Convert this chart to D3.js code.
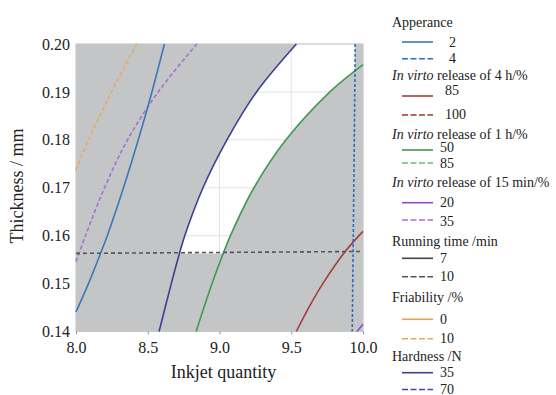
<!DOCTYPE html>
<html>
<head>
<meta charset="utf-8">
<script src="https://cdn.jsdelivr.net/npm/d3@7"></script>
<style>
  body { margin: 0; background: #fff; }
  svg text { font-family: "Liberation Serif", "Times New Roman", serif; fill: #222; }
</style>
</head>
<body>
<div id="chart"></div>
<script>
// axis ticks
const xTicks = [8.0, 8.5, 9.0, 9.5, 10.0];
const yTicks = [0.14, 0.15, 0.16, 0.17, 0.18, 0.19, 0.20];

// contour lines, [inkjet quantity, thickness]
const appearance2 = [[8.0, 0.1441], [8.087, 0.15], [8.171, 0.1563], [8.218, 0.16], [8.331, 0.17], [8.434, 0.18], [8.529, 0.19], [8.616, 0.20]];
const appearance4 = [[9.945, 0.20], [9.944, 0.1944], [9.925, 0.14]];
const release4h85 = [[9.535, 0.14], [9.622, 0.145], [9.72, 0.15], [9.876, 0.1567], [10.0, 0.1609]];
const release1h50 = [[8.837, 0.14], [8.948, 0.15], [9.026, 0.1563], [9.076, 0.16], [9.240, 0.17], [9.463, 0.18], [9.769, 0.19], [9.944, 0.1944], [10.0, 0.1957]];
const release15m20 = [[9.958, 0.14], [10.0, 0.1415]];
const release15m35 = [[8.0, 0.1546], [8.066, 0.16], [8.199, 0.17], [8.359, 0.18], [8.573, 0.19], [8.842, 0.20]];
const runTime10 = [[8.0, 0.1563], [10.0, 0.1567]];
const friability10 = [[8.0, 0.1737], [8.087, 0.18], [8.248, 0.19], [8.423, 0.20]];
const hardness35 = [[8.579, 0.14], [8.664, 0.15], [8.721, 0.1563], [8.758, 0.16], [8.885, 0.17], [9.052, 0.18], [9.258, 0.19], [9.536, 0.20]];

// legend
const legendTitles = ['Apperance', 'In virto release of 4 h/%', 'In virto release of 1 h/%', 'In virto release of 15 min/%', 'Running time /min', 'Friability /%', 'Hardness /N'];
const legendLevels = [['2', '4'], ['85', '100'], ['50', '85'], ['20', '35'], ['7', '10'], ['0', '10'], ['35', '70']];

const colors = ['#3a78b8', '#a33d3d', '#3f9b52', '#8a4dc6', '#444', '#e0a450', '#3d3f96'];
const dashColors = ['#2f6cbb', '#9a3336', '#6cba78', '#a66fd2', '#555', '#e3aa62', '#4446a6'];

const width = 556, height = 395;
const margin = { top: 44, right: 193, bottom: 63.5, left: 76 };
const plotW = width - margin.left - margin.right;
const plotH = height - margin.top - margin.bottom;

const svg = d3.select('#chart').append('svg')
  .attr('width', width)
  .attr('height', height);

const x = d3.scaleLinear().domain([8, 10]).range([margin.left, margin.left + plotW]);
const y = d3.scaleLinear().domain([0.14, 0.20]).range([margin.top + plotH, margin.top]);

const line = d3.line()
  .x(d => x(d[0]))
  .y(d => y(d[1]))
  .curve(d3.curveCatmullRom.alpha(0.5));

// grid (only shows through the white design space)
const grid = svg.append('g').attr('class', 'grid');
grid.selectAll('.gx').data(xTicks).enter().append('line')
  .attr('x1', d => x(d)).attr('x2', d => x(d))
  .attr('y1', margin.top).attr('y2', margin.top + plotH)
  .attr('stroke', '#e4e4e4');
grid.selectAll('.gy').data(yTicks).enter().append('line')
  .attr('x1', margin.left).attr('x2', margin.left + plotW)
  .attr('y1', d => y(d)).attr('y2', d => y(d))
  .attr('stroke', '#e4e4e4');

// shaded area = plot rect minus the feasible region
const seg1 = hardness35.filter(p => p[1] >= 0.1563);
const seg2 = appearance4.filter(p => p[1] >= 0.1944);
const seg3 = release1h50.filter(p => p[1] >= 0.1563 && p[0] <= 9.944).reverse();
const hole = line(seg1)
  + line(seg2).replace(/^M/, 'L')
  + line(seg3).replace(/^M/, 'L') + 'Z';
const outer = `M${x(8)},${y(0.2)}H${x(10)}V${y(0.14)}H${x(8)}Z`;
svg.append('path')
  .attr('d', outer + hole)
  .attr('fill', '#c4c5c7')
  .attr('fill-rule', 'evenodd');

svg.append('rect')
  .attr('x', margin.left).attr('y', margin.top)
  .attr('width', plotW).attr('height', plotH)
  .attr('fill', 'none')
  .attr('stroke', '#c8c8c8');

const curves = [
  { data: friability10, color: dashColors[5], dash: '4,2.5' },
  { data: release15m35, color: dashColors[3], dash: '4,2.5' },
  { data: appearance2, color: colors[0], dash: null },
  { data: hardness35, color: colors[6], dash: null },
  { data: release1h50, color: colors[2], dash: null },
  { data: release4h85, color: colors[1], dash: null },
  { data: release15m20, color: colors[3], dash: null },
  { data: runTime10, color: dashColors[4], dash: '4,3' },
  { data: appearance4, color: dashColors[0], dash: '3,2' }
];

svg.append('g').selectAll('path').data(curves).enter().append('path')
  .attr('d', d => line(d.data))
  .attr('fill', 'none')
  .attr('stroke', d => d.color)
  .attr('stroke-width', 1.6)
  .attr('stroke-dasharray', d => d.dash);

// axes
const xAxis = svg.append('g')
  .attr('transform', `translate(0, ${margin.top + plotH})`)
  .call(d3.axisBottom(x).tickValues(xTicks).tickFormat(d3.format('.1f')).tickSize(3).tickPadding(4));
const yAxis = svg.append('g')
  .attr('transform', `translate(${margin.left}, 0)`)
  .call(d3.axisLeft(y).tickValues(yTicks).tickFormat(d3.format('.2f')).tickSize(0).tickPadding(6));
[xAxis, yAxis].forEach(a => {
  a.select('.domain').remove();
  a.selectAll('line').attr('stroke', '#999');
  a.selectAll('text').attr('font-size', 16).attr('fill', '#222')
    .attr('font-family', '"Liberation Serif", serif');
});
xAxis.selectAll('text').attr('dy', '0.9em');

svg.append('text')
  .attr('x', margin.left + plotW / 2 + 4)
  .attr('y', 378)
  .attr('text-anchor', 'middle')
  .attr('font-size', 18)
  .text('Inkjet quantity');

svg.append('text')
  .attr('transform', 'translate(23, 186) rotate(-90)')
  .attr('text-anchor', 'middle')
  .attr('font-size', 18)
  .text('Thickness / mm');

// legend layout
const titleY = [22, 75, 134, 182.7, 241.7, 297.3, 356.7];
const itemY = [[42, 58.7], [96, 115], [150, 163], [202.7, 220], [258.3, 276.7], [319.3, 338.7], [372.7, 389.5]];
const labelY = [[42, 58.7], [90, 114], [147.5, 163], [202, 221], [258.3, 276.7], [319.3, 338.7], [372.7, 389]];
const labelX = [449, 445, 440, 440, 440, 440, 440];

const legend = svg.append('g').attr('class', 'legend');
legendTitles.forEach((t, i) => {
  const tx = legend.append('text')
    .attr('x', 392)
    .attr('y', titleY[i] + 4.5)
    .attr('font-size', 14);
  if (t.startsWith('In virto')) {
    tx.append('tspan').attr('font-style', 'italic').text('In virto');
    tx.append('tspan').text(t.slice(8));
  } else {
    tx.text(t);
  }
  legendLevels[i].forEach((lv, j) => {
    legend.append('line')
      .attr('x1', 402).attr('x2', 433)
      .attr('y1', itemY[i][j]).attr('y2', itemY[i][j])
      .attr('stroke', j === 0 ? colors[i] : dashColors[i])
      .attr('stroke-width', 1.6)
      .attr('stroke-dasharray', j === 0 ? null : '6,2.5');
    legend.append('text')
      .attr('x', labelX[i])
      .attr('y', labelY[i][j] + 4.5)
      .attr('font-size', 14)
      .text(lv);
  });
});
</script>
</body>
</html>
